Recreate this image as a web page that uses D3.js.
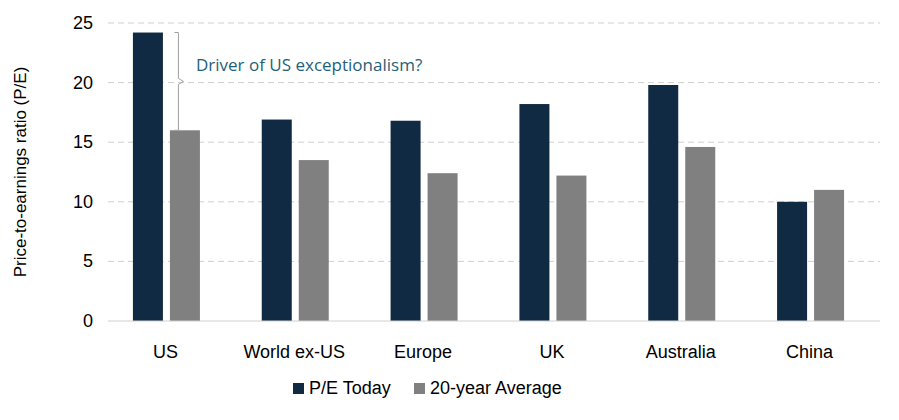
<!DOCTYPE html>
<html>
<head>
<meta charset="utf-8">
<script src="https://cdn.jsdelivr.net/npm/d3@7"></script>
<style>
  body { margin: 0; background: #fff; }
  text { font-family: Arial, "Liberation Sans", sans-serif; }
</style>
</head>
<body>
<svg id="chart" width="899" height="420"></svg>
<script>
// data
const categories = ["US", "World ex-US", "Europe", "UK", "Australia", "China"];
const peToday = [24.2, 16.9, 16.8, 18.2, 19.8, 10.0];
const avg20 = [16.0, 13.5, 12.4, 12.2, 14.6, 11.0];
const seriesNames = ["P/E Today", "20-year Average"];
const yTicks = [0, 5, 10, 15, 20, 25];
const colors = ["#0f2a42", "#808080"];

const svg = d3.select("#chart");
const plotLeft = 101, plotRight = 874, plotTop = 23, plotBottom = 321;

const x = d3.scaleBand().domain(categories).range([plotLeft, plotRight]);
const y = d3.scaleLinear().domain([0, 25]).range([plotBottom, plotTop]);

// gridlijnen
svg.append("g")
  .selectAll("line")
  .data(yTicks.filter((d) => d > 0))
  .join("line")
  .attr("x1", 108).attr("x2", 880)
  .attr("y1", (d) => y(d)).attr("y2", (d) => y(d))
  .attr("stroke", "#d0d0d0")
  .attr("stroke-dasharray", "6,4");

// y-as labels
svg.append("g")
  .selectAll("text")
  .data(yTicks)
  .join("text")
  .attr("x", 93)
  .attr("y", (d) => y(d) + 6)
  .attr("text-anchor", "end")
  .attr("font-size", 18)
  .attr("fill", "#000")
  .text((d) => d);

svg.append("text")
  .attr("transform", "translate(26," + (plotTop + plotBottom) / 2 + ") rotate(-90)")
  .attr("text-anchor", "middle")
  .attr("font-size", 17)
  .text("Price-to-earnings ratio (P/E)");

// bars
const barW = 30, gap = 7;
const groups = svg.append("g")
  .selectAll("g")
  .data(categories)
  .join("g");

groups.append("rect")
  .attr("x", (d) => x(d) + x.bandwidth() / 2 - barW - gap / 2 + 1)
  .attr("y", (d, i) => y(peToday[i]))
  .attr("width", barW)
  .attr("height", (d, i) => plotBottom - y(peToday[i]))
  .attr("fill", colors[0]);

groups.append("rect")
  .attr("x", (d) => x(d) + x.bandwidth() / 2 + gap / 2 + 1)
  .attr("y", (d, i) => y(avg20[i]))
  .attr("width", barW)
  .attr("height", (d, i) => plotBottom - y(avg20[i]))
  .attr("fill", colors[1]);

// x-as
svg.append("line")
  .attr("x1", 108).attr("x2", 880)
  .attr("y1", plotBottom).attr("y2", plotBottom)
  .attr("stroke", "#d0d0d0");

svg.append("g")
  .selectAll("text")
  .data(categories)
  .join("text")
  .attr("x", (d) => x(d) + x.bandwidth() / 2)
  .attr("y", 358)
  .attr("text-anchor", "middle")
  .attr("font-size", 18)
  .text((d) => d);

// accolade tussen de twee US bars
const bx = x("US") + x.bandwidth() / 2 + 13;
const y1 = y(peToday[0]), y2 = y(avg20[0]), ym = (y1 + y2) / 2;
svg.append("path")
  .attr("d", `M${bx - 4},${y1} L${bx},${y1} L${bx},${ym - 3} L${bx + 5},${ym} L${bx},${ym + 3} L${bx},${y2} L${bx - 4},${y2}`)
  .attr("fill", "none")
  .attr("stroke", "#a0a0a0")
  .attr("stroke-width", 1);

svg.append("text")
  .attr("x", 196)
  .attr("y", 71)
  .attr("font-size", 17)
  .attr("fill", "#1f5f7a")
  .style("font-family", "'Open Sans', sans-serif")
  .text("Driver of US exceptionalism?");

// legenda
const legendX = [293, 414];
const legend = svg.append("g")
  .selectAll("g")
  .data(seriesNames)
  .join("g")
  .attr("transform", (d, i) => "translate(" + legendX[i] + ",383)");

legend.append("rect")
  .attr("width", 11).attr("height", 11)
  .attr("fill", (d, i) => colors[i]);

legend.append("text")
  .attr("x", 16).attr("y", 11)
  .attr("font-size", 18)
  .text((d) => d);
</script>
</body>
</html>
